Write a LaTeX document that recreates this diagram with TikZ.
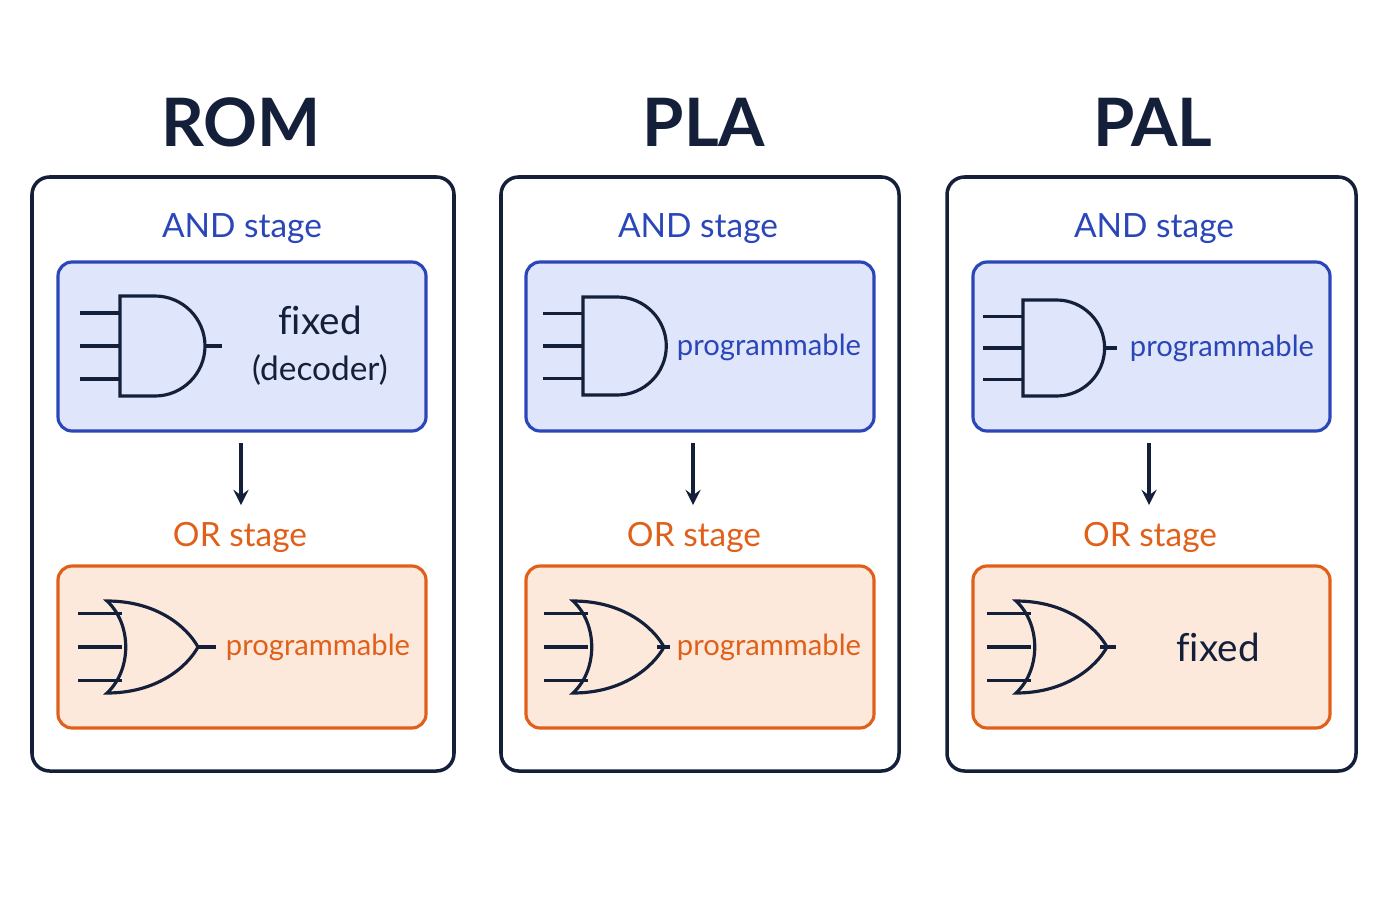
\documentclass[tikz,border=0pt]{standalone}
\usepackage{fontspec}
\setmainfont{Lato}
\definecolor{ink}{HTML}{14203A}
\definecolor{andblue}{HTML}{2A46B8}
\definecolor{andfill}{HTML}{DFE5FA}
\definecolor{orange}{HTML}{E0601A}
\definecolor{orfill}{HTML}{FDE9DC}
\tikzset{
  panel/.style={draw=ink,line width=1pt,rounded corners=5pt},
  andbox/.style={draw=andblue,fill=andfill,line width=0.9pt,rounded corners=4pt},
  orbox/.style={draw=orange,fill=orfill,line width=0.9pt,rounded corners=4pt},
  gate/.style={draw=ink,line width=0.9pt},
  title/.style={font=\fontsize{19}{22}\selectfont\bfseries,text=ink},
  stagelbl/.style={font=\fontsize{9.5}{11}\selectfont},
  note/.style={font=\fontsize{8.3}{10}\selectfont,align=center}
}
% left x, middle y, half height
\newcommand\andgate[3]{%
  \draw[gate] ({#1},{#2-#3}) -- ({#1+0.7*#3},{#2-#3})
    .. controls ({#1+1.25*#3},{#2-#3}) and ({#1+1.7*#3},{#2-0.55*#3}) .. ({#1+1.7*#3},{#2})
    .. controls ({#1+1.7*#3},{#2+0.55*#3}) and ({#1+1.25*#3},{#2+#3}) .. ({#1+0.7*#3},{#2+#3})
    -- ({#1},{#2+#3}) -- cycle;
  \foreach \dy in {-0.66,0,0.66}
    \draw[gate] ({#1-40},{#2+\dy*#3}) -- ({#1},{#2+\dy*#3});
}
% back x, middle y, half height
\newcommand\orgate[3]{%
  \draw[gate] ({#1},{#2-#3}) .. controls ({#1+25},{#2-0.5*#3}) and ({#1+25},{#2+0.5*#3}) .. ({#1},{#2+#3})
    .. controls ({#1+50},{#2+#3}) and ({#1+80},{#2+20}) .. ({#1+91},{#2})
    .. controls ({#1+80},{#2-20}) and ({#1+50},{#2-#3}) .. cycle;
  \foreach \dy in {-0.72,0,0.72}
    \draw[gate] ({#1-29},{#2+\dy*#3}) -- ({#1+15},{#2+\dy*#3});
}
\begin{document}
\begin{tikzpicture}[x=0.01cm,y=-0.01cm]
\useasboundingbox (0,0) rectangle (1400,900);
% ROM
\node[title] (romT) at (241,122) {ROM};
\draw[panel] (32,177) rectangle (454,771);
\node[stagelbl,text=andblue] (romA) at (242,229) {AND stage};
\draw[andbox] (58,262) rectangle (426,431);
\andgate{120}{346}{50}
\draw[gate] (205,346) -- (222,346);
\node[note,text=ink] (romAt) at (320,346) {\fontsize{11}{13}\selectfont f\kern0pt ixed\\[3pt]\fontsize{9.5}{11}\selectfont(decoder)};
\node[stagelbl,text=orange] (romO) at (240,537) {OR stage};
\draw[ink,line width=0.9pt,-stealth] (241,443) -- (241,505);
\draw[orbox] (58,566) rectangle (426,728);
\orgate{107}{647}{46}
\draw[gate] (198,647) -- (216,647);
\node[note,text=orange] (romOt) at (318,647) {programmable};
% PLA
\node[title] (plaT) at (704,122) {PLA};
\draw[panel] (501,177) rectangle (899,771);
\node[stagelbl,text=andblue] (plaA) at (698,229) {AND stage};
\draw[andbox] (526,262) rectangle (874,431);
\andgate{583}{346}{49}
\node[note,text=andblue] (plaAt) at (769,347) {programmable};
\node[stagelbl,text=orange] (plaO) at (694,537) {OR stage};
\draw[ink,line width=0.9pt,-stealth] (693,443) -- (693,505);
\draw[orbox] (526,566) rectangle (874,728);
\orgate{573}{647}{46}
\draw[gate] (657,647) -- (670,647);
\node[note,text=orange] (plaOt) at (769,647) {programmable};
% PAL
\node[title] (palT) at (1153,122) {PAL};
\draw[panel] (947,177) rectangle (1356,771);
\node[stagelbl,text=andblue] (palA) at (1154,229) {AND stage};
\draw[andbox] (973,262) rectangle (1330,431);
\andgate{1023}{348}{48}
\draw[gate] (1105,348) -- (1117,348);
\node[note,text=andblue] (palAt) at (1222,348) {programmable};
\node[stagelbl,text=orange] (palO) at (1150,537) {OR stage};
\draw[ink,line width=0.9pt,-stealth] (1149,443) -- (1149,505);
\draw[orbox] (973,566) rectangle (1330,728);
\orgate{1016}{647}{46}
\draw[gate] (1100,647) -- (1116,647);
\node[note,text=ink] (palOt) at (1218,647) {\fontsize{11}{13}\selectfont f\kern0pt ixed};
\end{tikzpicture}
\end{document}
